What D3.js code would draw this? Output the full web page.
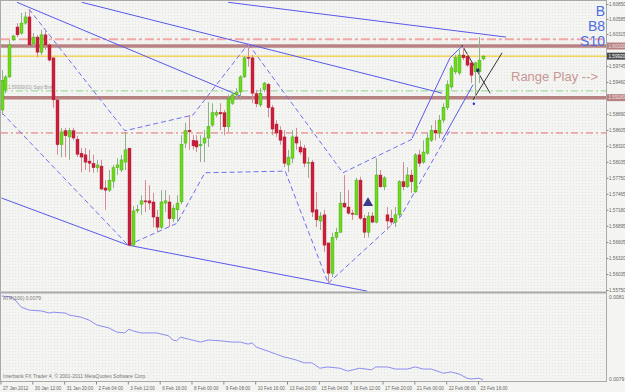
<!DOCTYPE html>
<html>
<head>
<meta charset="utf-8">
<script src="https://cdn.jsdelivr.net/npm/d3@7/dist/d3.min.js"></script>
<style>
  html, body { margin: 0; padding: 0; background: #ffffff; }
  svg { display: block; }
</style>
</head>
<body>
<div id="app"></div>
<script>
const d3 = window.d3;

// H4 bars, 27 Jan 2012 .. 23 Feb 2012 20:00
const opens = [1.5896,1.5932,1.5955,1.6021,1.6044,1.6033,1.6051,1.6062,1.6014,1.6026,
  1.5999,1.6030,1.6012,1.5989,1.5914,1.5834,1.5859,1.5848,1.5859,1.5844,
  1.5819,1.5816,1.5805,1.5801,1.5793,1.5796,1.5757,1.5753,1.5769,1.5793,
  1.5789,1.5803,1.5828,1.5655,1.5716,1.5728,1.5734,1.5734,1.5732,1.5705,
  1.5687,1.5730,1.5732,1.5702,1.5718,1.5732,1.5837,1.5860,1.5842,1.5841,
  1.5832,1.5837,1.5846,1.5869,1.5887,1.5892,1.5891,1.5866,1.5908,1.5923,
  1.5928,1.5955,1.5990,1.5989,1.5925,1.5905,1.5932,1.5942,1.5900,1.5871,
  1.5860,1.5848,1.5798,1.5810,1.5848,1.5830,1.5828,1.5801,1.5803,1.5718,
  1.5698,1.5709,1.5659,1.5605,1.5669,1.5678,1.5730,1.5723,1.5712,1.5709,
  1.5771,1.5703,1.5678,1.5707,1.5696,1.5780,1.5759,1.5709,1.5703,1.5696,
  1.5709,1.5768,1.5759,1.5780,1.5750,1.5816,1.5803,1.5819,1.5842,1.5860,
  1.5855,1.5878,1.5900,1.5937,1.5964,1.5962,1.5994,1.5992,1.5980,1.5964,
  1.5964,1.5987];
const highs = [1.5967,1.5958,1.6021,1.6030,1.6051,1.6069,1.6071,1.6076,1.6033,1.6030,
  1.6039,1.6039,1.6015,1.5989,1.5917,1.5864,1.5864,1.5864,1.5864,1.5850,
  1.5828,1.5828,1.5825,1.5816,1.5807,1.5807,1.5771,1.5789,1.5798,1.5810,
  1.5816,1.5857,1.5828,1.5725,1.5727,1.5744,1.5771,1.5762,1.5748,1.5718,
  1.5753,1.5753,1.5744,1.5727,1.5744,1.5851,1.5873,1.5887,1.5851,1.5851,
  1.5851,1.5860,1.5910,1.5908,1.5896,1.5908,1.5896,1.5923,1.5928,1.5935,
  1.5958,1.5992,1.6014,1.5994,1.5932,1.5935,1.5946,1.5944,1.5905,1.5878,
  1.5867,1.5860,1.5825,1.5860,1.5864,1.5842,1.5834,1.5812,1.5807,1.5750,
  1.5714,1.5718,1.5659,1.5677,1.5686,1.5750,1.5780,1.5753,1.5718,1.5775,
  1.5777,1.5709,1.5714,1.5714,1.5810,1.5789,1.5778,1.5723,1.5718,1.5723,
  1.5771,1.5803,1.5794,1.5789,1.5819,1.5825,1.5842,1.5855,1.5869,1.5878,
  1.5887,1.5908,1.5949,1.5976,1.5994,1.6003,1.6010,1.5998,1.5982,1.5982,
  1.6026,1.5994];
const lows = [1.5887,1.5926,1.5953,1.6019,1.6026,1.6030,1.6048,1.6008,1.6008,1.5990,
  1.5994,1.6003,1.5982,1.5900,1.5816,1.5812,1.5812,1.5807,1.5842,1.5812,
  1.5785,1.5789,1.5785,1.5784,1.5785,1.5753,1.5718,1.5750,1.5757,1.5780,
  1.5785,1.5789,1.5653,1.5652,1.5712,1.5709,1.5714,1.5718,1.5687,1.5678,
  1.5684,1.5714,1.5687,1.5696,1.5696,1.5728,1.5828,1.5825,1.5825,1.5821,
  1.5803,1.5803,1.5830,1.5866,1.5883,1.5860,1.5851,1.5857,1.5905,1.5914,
  1.5914,1.5953,1.5973,1.5908,1.5901,1.5901,1.5928,1.5883,1.5851,1.5848,
  1.5834,1.5794,1.5785,1.5801,1.5825,1.5816,1.5794,1.5775,1.5705,1.5687,
  1.5682,1.5643,1.5587,1.5598,1.5664,1.5677,1.5721,1.5709,1.5700,1.5709,
  1.5700,1.5668,1.5669,1.5694,1.5694,1.5757,1.5753,1.5682,1.5691,1.5687,
  1.5705,1.5753,1.5757,1.5748,1.5748,1.5794,1.5800,1.5816,1.5839,1.5842,
  1.5846,1.5873,1.5896,1.5933,1.5960,1.5958,1.5985,1.5973,1.5944,1.5917,
  1.5944,1.5985];
const closes = [1.5949,1.5955,1.6012,1.6028,1.6030,1.6051,1.6062,1.6012,1.6026,1.5999,
  1.6030,1.6012,1.5985,1.5914,1.5834,1.5857,1.5850,1.5859,1.5846,1.5817,
  1.5812,1.5803,1.5801,1.5793,1.5798,1.5755,1.5753,1.5771,1.5793,1.5798,
  1.5807,1.5825,1.5655,1.5716,1.5719,1.5734,1.5732,1.5730,1.5705,1.5687,
  1.5732,1.5734,1.5702,1.5721,1.5730,1.5835,1.5859,1.5857,1.5832,1.5830,
  1.5835,1.5846,1.5867,1.5891,1.5891,1.5889,1.5866,1.5917,1.5923,1.5928,
  1.5955,1.5989,1.5989,1.5926,1.5907,1.5926,1.5944,1.5900,1.5862,1.5855,
  1.5842,1.5801,1.5812,1.5848,1.5837,1.5821,1.5801,1.5803,1.5714,1.5700,
  1.5707,1.5655,1.5605,1.5669,1.5678,1.5730,1.5723,1.5712,1.5711,1.5771,
  1.5703,1.5678,1.5707,1.5696,1.5780,1.5759,1.5775,1.5698,1.5696,1.5709,
  1.5768,1.5759,1.5780,1.5768,1.5816,1.5801,1.5821,1.5846,1.5860,1.5855,
  1.5878,1.5901,1.5941,1.5971,1.5990,1.5994,1.5989,1.5976,1.5958,1.5980,
  1.5985,1.5992];

// price ticks that are not hidden under the level boxes
const priceTicks = ["1.60850","1.60585","1.60315","1.59745","1.59460",
  "1.58890","1.58605","1.58320","1.58035","1.57750","1.57465","1.57180","1.56895",
  "1.56605","1.56320","1.56035","1.55750"];
const timeTickBars = [0,8,16,24,32,40,48,56,64,72,80,88,96,104,112,120];
const timeLabels = ["27 Jan 2012","30 Jan 12:00","31 Jan 20:00","2 Feb 04:00","3 Feb 12:00",
  "6 Feb 16:00","8 Feb 00:00","9 Feb 08:00","10 Feb 16:00","13 Feb 20:00","15 Feb 04:00",
  "16 Feb 12:00","17 Feb 20:00","21 Feb 00:00","22 Feb 08:00","23 Feb 16:00"];

// ATR(100) samples: bar index, value
const atrBars = [0,2,3,5,7,10,12,13,16,17,20,22,24,27,29,31,32,33,35,39,42,43,44,45,47,50,52,55,58,60,
  62,63,64,67,69,71,72,74,76,78,80,82,85,87,90,93,94,97,99,102,104,106,108,111,113,115,117,118,120,121];
const atrValues = [0.008100,0.008098,0.008095,0.008073,0.008066,0.008064,0.008059,0.008061,0.008059,0.008054,
  0.008049,0.008042,0.008030,0.008023,0.008013,0.008011,0.008020,0.008016,0.008011,0.008011,
  0.008004,0.007994,0.007992,0.008001,0.007996,0.007989,0.007994,0.007992,0.007989,0.007989,
  0.007984,0.007987,0.007977,0.007967,0.007960,0.007953,0.007951,0.007946,0.007939,0.007939,
  0.007926,0.007929,0.007926,0.007919,0.007926,0.007922,0.007929,0.007929,0.007924,0.007924,
  0.007929,0.007924,0.007924,0.007914,0.007917,0.007912,0.007902,0.007900,0.007902,0.007898];

// horizontal levels
const levelPinkDash = 1.6022;
const levelBandHigh = 1.6010;
const levelBid = 1.5992;
const levelGreenDash = 1.5930;
const levelBandLow = 1.5918;
const levelRedDash = 1.5855;

// drawn objects: [bar, price] anchors
const solidLines = [
  [[57, 1.6088], [126.8, 1.6026]],
  [[20.2, 1.6088], [110.7, 1.5926]],
  [[3.9, 1.6088], [60, 1.5921]],
  [[0, 1.5739], [31.8, 1.5655]],
  [[31.8, 1.5655], [91.9, 1.5573]],
  [[103.2, 1.5846], [112.7, 1.5989], [115.8, 1.6010]],
  [[110.7, 1.5842], [118.5, 1.5941]]
];
const dashedLines = [
  [[0.1, 1.5891], [31.8, 1.5655]],
  [[6.9, 1.6076], [31.0, 1.5859], [48.1, 1.5887], [62.0, 1.6014]],
  [[31.8, 1.5655], [44.1, 1.5694], [51.1, 1.5784], [71.3, 1.5787], [82.1, 1.5587]],
  [[62.0, 1.6014], [85.8, 1.5784], [103.2, 1.5844]],
  [[82.1, 1.5587], [100.2, 1.5705], [112.9, 1.5862]]
];
const blackLines = [
  [[115.7, 1.6012], [122.8, 1.5926]],
  [[118.5, 1.5914], [125.8, 1.5998]]
];

const W = 625, H = 392;
const pane = { left: 1, right: 606, top: 1, bottom: 292 };
const sub = { top: 294, bottom: 381 };
const tiny = "'Liberation Sans', Arial, sans-serif";

const x = d3.scaleLinear().domain([0, 121]).range([1.5, 483]);
const y = d3.scaleLinear().domain([1.5575, 1.6085]).range([290, 4]);
const yAtr = d3.scaleLinear().domain([0.0079, 0.0081]).range([379, 296]);

const svg = d3.select("#app").append("svg")
  .attr("width", W).attr("height", H)
  .style("font-family", tiny);

const defs = svg.append("defs");
const pat = defs.append("pattern").attr("id", "dots")
  .attr("width", 3).attr("height", 3).attr("patternUnits", "userSpaceOnUse");
pat.append("rect").attr("width", 3).attr("height", 3).attr("fill", "#f4f5f2");
pat.append("rect").attr("width", 1).attr("height", 1).attr("fill", "#e3e6df");
defs.append("clipPath").attr("id", "clipMain").append("rect")
  .attr("x", pane.left).attr("y", pane.top)
  .attr("width", pane.right - pane.left).attr("height", pane.bottom - pane.top);
defs.append("clipPath").attr("id", "clipSub").append("rect")
  .attr("x", pane.left).attr("y", sub.top)
  .attr("width", pane.right - pane.left).attr("height", sub.bottom - sub.top);

svg.append("rect").attr("width", W).attr("height", H).attr("fill", "#f4f5f2");
svg.append("rect").attr("x", 0).attr("y", 0).attr("width", pane.right).attr("height", sub.bottom)
  .attr("fill", "url(#dots)");

const main = svg.append("g").attr("clip-path", "url(#clipMain)");

// horizontal levels
const hline = (p, color, width, dash) => main.append("line")
  .attr("x1", pane.left).attr("x2", pane.right)
  .attr("y1", y(p)).attr("y2", y(p))
  .attr("stroke", color).attr("stroke-width", width)
  .attr("stroke-dasharray", dash || null);

hline(levelRedDash, "#e46a6a", 1, "7,3,2,3");
hline(levelGreenDash, "#8fd68f", 1, "7,3,2,3");
hline(levelPinkDash, "#f2a7a7", 2, "9,3,3,3");
hline(levelBandHigh, "#b98282", 3.5);
hline(levelBandLow, "#b98282", 3.5);
hline(levelBid, "#f4c20d", 1);

main.append("text")
  .attr("x", 8).attr("y", y(levelGreenDash) - 2)
  .attr("font-size", 4.5).attr("fill", "#9a9a9a")
  .text("1.59300(01) Sqrp Bmk");

// trend lines
const line = d3.line().x(d => x(d[0])).y(d => y(d[1]));
main.append("g").selectAll("path").data(dashedLines).join("path")
  .attr("d", line).attr("fill", "none")
  .attr("stroke", "#6f6ff0").attr("stroke-width", 1).attr("stroke-dasharray", "5,3");
main.append("g").selectAll("path").data(solidLines).join("path")
  .attr("d", line).attr("fill", "none")
  .attr("stroke", "#5858ec").attr("stroke-width", 1);
main.append("g").selectAll("path").data(blackLines).join("path")
  .attr("d", line).attr("fill", "none")
  .attr("stroke", "#333333").attr("stroke-width", 1);

// candles
const bars = d3.range(opens.length);
const candles = main.append("g");
candles.selectAll("line").data(bars).join("line")
  .attr("x1", i => Math.round(x(i)) + 0.5).attr("x2", i => Math.round(x(i)) + 0.5)
  .attr("y1", i => y(highs[i])).attr("y2", i => y(lows[i]))
  .attr("stroke", i => closes[i] >= opens[i] ? "#8fb08a" : "#d48b96")
  .attr("stroke-width", 1);
candles.selectAll("rect").data(bars).join("rect")
  .attr("x", i => Math.round(x(i)) - 1)
  .attr("y", i => y(Math.max(opens[i], closes[i])))
  .attr("width", 3)
  .attr("height", i => Math.max(1, Math.abs(y(opens[i]) - y(closes[i]))))
  .attr("fill", i => closes[i] >= opens[i] ? "#6cdb1c" : "#cc1f3c")
  .attr("stroke", i => closes[i] >= opens[i] ? "#46a016" : "#a81a30")
  .attr("stroke-width", 0.4);

// markers
main.append("path")
  .attr("d", d3.symbol().type(d3.symbolTriangle).size(45)())
  .attr("transform", `translate(${x(92.1)},${y(1.5730)})`)
  .attr("fill", "#3b3b8c");
main.append("rect")
  .attr("x", x(119.7) - 1.5).attr("y", y(1.5967) - 1.5)
  .attr("width", 3).attr("height", 3).attr("fill", "#22228a");
main.append("circle")
  .attr("cx", x(118.7)).attr("cy", y(1.5907)).attr("r", 1.2).attr("fill", "#2a2aee");

// text objects
const bsTexts = [["B", 16], ["B8", 31], ["S10", 46]];
svg.append("g").selectAll("text").data(bsTexts).join("text")
  .attr("x", 605).attr("y", d => d[1])
  .attr("text-anchor", "end")
  .attr("font-size", 14).attr("fill", "#4d6fe3")
  .text(d => d[0]);
svg.append("text")
  .attr("x", 511).attr("y", 81)
  .attr("font-size", 13).attr("fill", "#c99595")
  .text("Range Play -->");

// ATR sub window
const atrLine = d3.line().x((d, i) => x(atrBars[i])).y(d => yAtr(d));
svg.append("path")
  .attr("clip-path", "url(#clipSub)")
  .attr("d", atrLine(atrValues))
  .attr("fill", "none").attr("stroke", "#8c8cf2").attr("stroke-width", 1);
svg.append("text").attr("x", 3).attr("y", 300)
  .attr("font-size", 5).attr("fill", "#777")
  .text("ATR(100) 0.0079");
svg.append("text").attr("x", 3).attr("y", 378)
  .attr("font-size", 5).attr("fill", "#777")
  .text("Interbank FX Trader 4, \u00a9 2001-2011 MetaQuotes Software Corp.");

// frames
svg.append("line").attr("x1", 0).attr("x2", pane.right).attr("y1", 292.5).attr("y2", 292.5)
  .attr("stroke", "#a9a9a9").attr("stroke-width", 2);
svg.append("rect").attr("x", 0.5).attr("y", 0.5)
  .attr("width", pane.right).attr("height", sub.bottom)
  .attr("fill", "none").attr("stroke", "#a9a9a9").attr("stroke-width", 1);

// price axis
const axisY = svg.append("g").attr("transform", `translate(${pane.right + 0.5},0)`)
  .call(d3.axisRight(y).tickValues(priceTicks.map(Number)).tickFormat((d, i) => priceTicks[i]).tickSize(2).tickPadding(0.5));
axisY.select(".domain").remove();
axisY.selectAll("line").attr("stroke", "#8a8a8a");
axisY.selectAll("text").attr("font-size", 4.6).attr("fill", "#666").attr("font-family", tiny);

// level boxes on the axis
const boxes = [
  [levelBandHigh, "#b98282", "#f2e3e3"],
  [levelBid, "#4a4a4a", "#ffffff"],
  [levelBandLow, "#b98282", "#f2e3e3"]
];
const boxG = svg.append("g").selectAll("g").data(boxes).join("g")
  .attr("transform", d => `translate(${pane.right + 1},${y(d[0]) - 3.5})`);
boxG.append("rect").attr("width", 19).attr("height", 7).attr("fill", d => d[1]);
boxG.append("text").attr("x", 1.5).attr("y", 5.3)
  .attr("font-size", 4.6).attr("fill", d => d[2])
  .text(d => d[0].toFixed(5));

// ATR axis labels
svg.append("text").attr("x", 609).attr("y", 299).attr("font-size", 5).attr("fill", "#666").text("0.0081");
svg.append("text").attr("x", 609).attr("y", 381).attr("font-size", 5).attr("fill", "#666").text("0.0079");

// time axis
const axisX = svg.append("g").attr("transform", `translate(0,${sub.bottom + 0.5})`)
  .call(d3.axisBottom(x).tickValues(timeTickBars).tickFormat((d, i) => timeLabels[i]).tickSize(3).tickPadding(2));
axisX.select(".domain").remove();
axisX.selectAll("line").attr("stroke", "#8a8a8a").attr("transform", "translate(-1,0)");
axisX.selectAll("text").attr("text-anchor", "start").attr("dx", 1)
  .attr("font-size", 4.6).attr("fill", "#666").attr("font-family", tiny);
</script>
</body>
</html>
